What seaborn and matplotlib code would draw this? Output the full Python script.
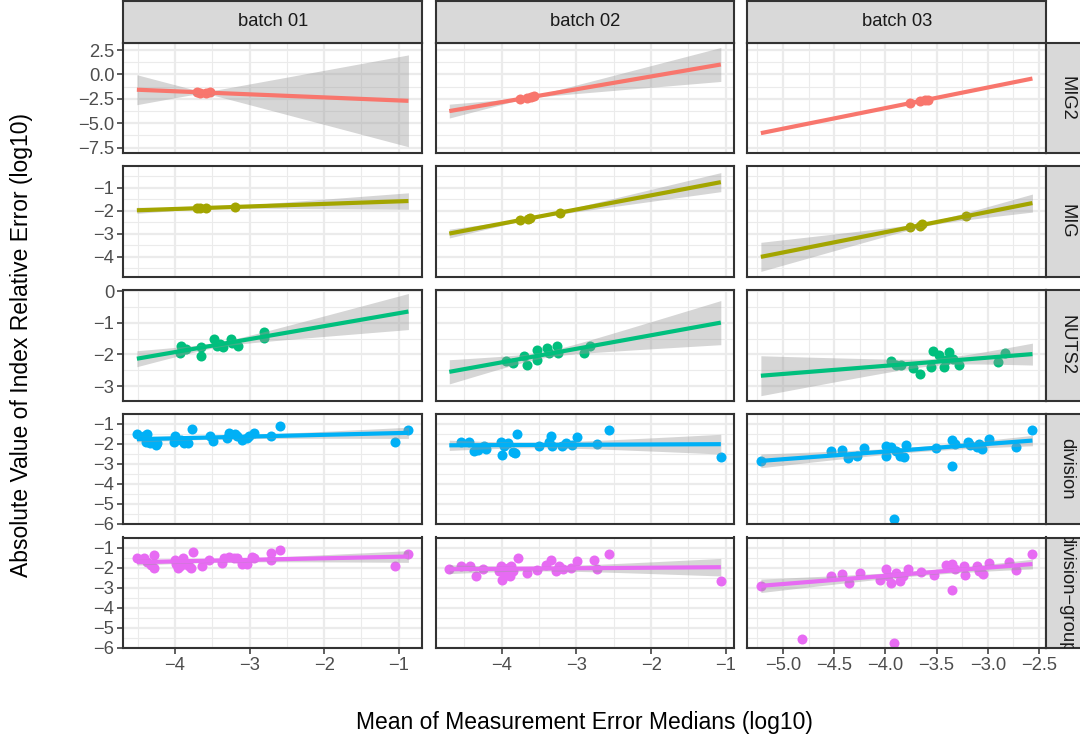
import numpy as np
import pandas as pd
import matplotlib
matplotlib.use("Agg")
import matplotlib.pyplot as plt
import seaborn as sns
from math import lgamma, exp, sqrt, pi
from matplotlib.ticker import FixedLocator, FuncFormatter

# ---------------------------------------------------------------- data
levels = ["MIG2", "MIG", "NUTS2", "division", "division-group"]
batches = ["batch 01", "batch 02", "batch 03"]
palette = ["#F8766D", "#A3A500", "#00BF7D", "#00B0F6", "#E76BF3"]

mig2_b01_x = [-3.70, -3.66, -3.58, -3.53]
mig2_b01_y = [-1.787, -1.869, -1.904, -1.840]
mig2_b02_x = [-3.75, -3.66, -3.61, -3.57]
mig2_b02_y = [-2.502, -2.420, -2.330, -2.265]
mig2_b03_x = [-3.764, -3.666, -3.618, -3.586]
mig2_b03_y = [-2.958, -2.751, -2.650, -2.582]

mig_b01_x = [-3.70, -3.67, -3.59, -3.19]
mig_b01_y = [-1.881, -1.902, -1.875, -1.835]
mig_b02_x = [-3.752, -3.652, -3.616, -3.219]
mig_b02_y = [-2.403, -2.364, -2.312, -2.081]
mig_b03_x = [-3.764, -3.666, -3.640, -3.212]
mig_b03_y = [-2.713, -2.677, -2.581, -2.237]

nuts2_b01_x = [-3.924, -3.933, -3.857, -3.657, -3.657, -3.480, -3.435,
               -3.391, -3.355, -3.244, -3.235, -3.160, -2.813, -2.804]
nuts2_b01_y = [-1.727, -1.968, -1.830, -1.757, -2.040, -1.516, -1.727,
               -1.685, -1.768, -1.516, -1.653, -1.727, -1.285, -1.495]
nuts2_b02_x = [-3.943, -3.853, -3.699, -3.653, -3.529, -3.520, -3.387,
               -3.365, -3.263, -3.245, -2.899, -2.819]
nuts2_b02_y = [-2.210, -2.284, -2.052, -2.337, -1.863, -2.179, -1.810,
               -1.968, -1.737, -1.968, -1.950, -1.750]
nuts2_b03_x = [-3.942, -3.893, -3.844, -3.731, -3.666, -3.553, -3.537, -3.472,
               -3.423, -3.407, -3.381, -3.342, -3.277, -2.905, -2.830]
nuts2_b03_y = [-2.210, -2.337, -2.337, -2.420, -2.630, -2.390, -1.895, -2.020,
               -2.390, -2.180, -1.916, -2.147, -2.337, -2.232, -1.968]

division_b01_x = [-4.511, -4.413, -4.377, -4.391, -4.333, -4.257, -4.235, -4.004,
                  -4.013, -3.924, -3.880, -3.827, -3.768, -3.533, -3.488, -3.301,
                  -3.280, -3.191, -3.168, -3.101, -3.035, -3.013, -2.947, -2.715,
                  -2.591, -1.057, -0.871]
division_b01_y = [-1.497, -1.596, -1.497, -1.878, -1.960, -2.043, -1.960, -1.596,
                  -1.878, -1.795, -1.960, -1.960, -1.265, -1.596, -1.829, -1.712,
                  -1.464, -1.497, -1.596, -1.795, -1.712, -1.596, -1.464, -1.596,
                  -1.100, -1.911, -1.298]
division_b02_x = [-4.543, -4.432, -4.365, -4.320, -4.232, -4.209, -4.009, -4.000,
                  -3.965, -3.920, -3.853, -3.823, -3.796, -3.499, -3.365, -3.333,
                  -3.320, -3.187, -3.143, -3.053, -2.987, -2.720, -2.565, -1.067]
division_b02_y = [-1.911, -1.911, -2.375, -2.292, -2.126, -2.259, -1.878, -2.540,
                  -2.126, -1.960, -2.425, -2.458, -1.497, -2.126, -1.878, -1.596,
                  -2.093, -2.093, -1.960, -2.043, -1.662, -1.994, -1.298, -2.672]
division_b03_x = [-5.216, -4.535, -4.428, -4.364, -4.282, -4.211, -3.997, -3.997,
                  -3.942, -3.900, -3.861, -3.822, -3.796, -3.504, -3.348, -3.348,
                  -3.316, -3.196, -3.173, -3.109, -3.083, -3.057, -2.985, -2.720,
                  -2.564]
division_b03_y = [-2.872, -2.375, -2.325, -2.706, -2.623, -2.209, -2.093, -2.590,
                  -2.160, -2.375, -2.623, -2.672, -2.043, -2.209, -1.795, -3.086,
                  -2.010, -1.911, -2.043, -2.160, -1.994, -2.259, -1.745, -2.160,
                  -1.298]
# extreme low-error units, shown as points but left out of the trend fit
division_b03_low_x = [-3.916]
division_b03_low_y = [-5.734]

divgroup_b01_x = [-4.511, -4.422, -4.377, -4.324, -4.288, -4.288, -4.004, -3.991,
                  -3.960, -3.933, -3.888, -3.871, -3.813, -3.781, -3.755, -3.635,
                  -3.547, -3.368, -3.347, -3.280, -3.213, -3.168, -3.101, -3.035,
                  -2.968, -2.947, -2.715, -2.715, -2.591, -1.057, -0.871]
divgroup_b01_y = [-1.483, -1.513, -1.732, -1.847, -1.349, -2.011, -1.598, -1.797,
                  -2.011, -1.897, -1.513, -1.797, -1.930, -2.011, -1.184, -1.930,
                  -1.598, -1.764, -1.513, -1.433, -1.513, -1.513, -1.797, -1.797,
                  -1.433, -1.513, -1.266, -1.633, -1.100, -1.897, -1.299]
divgroup_b02_x = [-4.699, -4.543, -4.419, -4.343, -4.253, -4.032, -4.009, -4.000,
                  -3.973, -3.943, -3.929, -3.912, -3.885, -3.876, -3.853, -3.779,
                  -3.653, -3.520, -3.409, -3.333, -3.276, -3.232, -3.173, -3.076,
                  -2.987, -2.765, -2.720, -2.565, -1.067]
divgroup_b02_y = [-2.063, -1.930, -1.897, -2.430, -2.063, -2.179, -1.930, -2.594,
                  -2.262, -2.096, -2.345, -2.013, -2.430, -1.897, -2.179, -1.483,
                  -2.262, -2.096, -1.847, -1.633, -2.179, -1.930, -2.063, -2.013,
                  -1.682, -1.598, -2.063, -1.299, -2.678]
divgroup_b03_x = [-5.216, -4.535, -4.428, -4.354, -4.250, -4.055, -3.997,
                  -3.975, -3.942, -3.900, -3.861, -3.829, -3.780, -3.650,
                  -3.530, -3.407, -3.348, -3.348, -3.316, -3.229, -3.219, -3.109,
                  -3.083, -3.051, -2.985, -2.791, -2.720, -2.564]
divgroup_b03_y = [-2.928, -2.395, -2.312, -2.761, -2.262, -2.594, -2.063,
                  -2.430, -2.761, -2.262, -2.678, -2.430, -2.063, -2.229,
                  -2.345, -1.847, -1.797, -3.093, -2.063, -1.930, -2.345, -1.930,
                  -2.179, -2.296, -1.764, -1.732, -2.130, -1.299]
divgroup_b03_low_x = [-4.817, -3.919]
divgroup_b03_low_y = [-5.549, -5.749]

series = [
    ("MIG2", "batch 01", mig2_b01_x, mig2_b01_y, True),
    ("MIG2", "batch 02", mig2_b02_x, mig2_b02_y, True),
    ("MIG2", "batch 03", mig2_b03_x, mig2_b03_y, True),
    ("MIG", "batch 01", mig_b01_x, mig_b01_y, True),
    ("MIG", "batch 02", mig_b02_x, mig_b02_y, True),
    ("MIG", "batch 03", mig_b03_x, mig_b03_y, True),
    ("NUTS2", "batch 01", nuts2_b01_x, nuts2_b01_y, True),
    ("NUTS2", "batch 02", nuts2_b02_x, nuts2_b02_y, True),
    ("NUTS2", "batch 03", nuts2_b03_x, nuts2_b03_y, True),
    ("division", "batch 01", division_b01_x, division_b01_y, True),
    ("division", "batch 02", division_b02_x, division_b02_y, True),
    ("division", "batch 03", division_b03_x, division_b03_y, True),
    ("division", "batch 03", division_b03_low_x, division_b03_low_y, False),
    ("division-group", "batch 01", divgroup_b01_x, divgroup_b01_y, True),
    ("division-group", "batch 02", divgroup_b02_x, divgroup_b02_y, True),
    ("division-group", "batch 03", divgroup_b03_x, divgroup_b03_y, True),
    ("division-group", "batch 03", divgroup_b03_low_x, divgroup_b03_low_y, False),
]

# per-row y scales and per-column x breaks
y_limits = {"MIG2": (-8.08, 3.25), "MIG": (-4.865, -0.08),
            "NUTS2": (-3.46, 0.03), "division": (-6.02, -0.49),
            "division-group": (-6.02, -0.48)}
y_breaks = {"MIG2": [-7.5, -5.0, -2.5, 0.0, 2.5], "MIG": [-4, -3, -2, -1],
            "NUTS2": [-3, -2, -1, 0], "division": [-6, -5, -4, -3, -2, -1],
            "division-group": [-6, -5, -4, -3, -2, -1]}
y_decimals = {"MIG2": 1, "MIG": 0, "NUTS2": 0, "division": 0, "division-group": 0}
x_breaks = {"batch 01": [-4, -3, -2, -1], "batch 02": [-4, -3, -2, -1],
            "batch 03": [-5.0, -4.5, -4.0, -3.5, -3.0, -2.5]}
x_decimals = {"batch 01": 0, "batch 02": 0, "batch 03": 1}

rows = []
for lv, bt, xs, ys, fitted in series:
    rows += [(lv, bt, a, b, fitted) for a, b in zip(xs, ys)]
df = pd.DataFrame(rows, columns=["level", "batch", "x", "y", "fitted"])


# ---------------------------------------------------------------- helpers
def t_quantile(p, nu):
    grid = np.linspace(0.0, 80.0, 800001)
    c = exp(lgamma((nu + 1) / 2) - lgamma(nu / 2)) / sqrt(nu * pi)
    pdf = c * (1 + grid ** 2 / nu) ** (-(nu + 1) / 2)
    cdf = 0.5 + np.concatenate([[0.0], np.cumsum((pdf[1:] + pdf[:-1]) / 2 * np.diff(grid))])
    return grid[min(np.searchsorted(cdf, p), len(grid) - 1)]


def lm_band(x, y, grid, level=0.95):
    x = np.asarray(x, float)
    y = np.asarray(y, float)
    n = len(x)
    xbar = x.mean()
    sxx = ((x - xbar) ** 2).sum()
    slope = ((x - xbar) * (y - y.mean())).sum() / sxx
    icpt = y.mean() - slope * xbar
    resid = y - (icpt + slope * x)
    s = sqrt((resid ** 2).sum() / (n - 2))
    se = s * np.sqrt(1 / n + (grid - xbar) ** 2 / sxx)
    q = t_quantile(0.5 + level / 2, n - 2)
    fit = icpt + slope * grid
    return fit - q * se, fit + q * se


def minor_of(breaks, lo, hi):
    b = np.asarray(breaks, float)
    step = b[1] - b[0]
    mids = np.concatenate([[b[0] - step / 2], (b[:-1] + b[1:]) / 2, [b[-1] + step / 2]])
    return [m for m in mids if lo <= m <= hi]


def fmt(decimals):
    return FuncFormatter(lambda v, _: f"{v:.{decimals}f}".replace("-", "\u2212"))


# ---------------------------------------------------------------- style
sns.set_style("white")
plt.rcParams["font.family"] = ["Liberation Sans", "DejaVu Sans"]
plt.rcParams["axes.unicode_minus"] = True

W, H = 1080, 744
fig = plt.figure(figsize=(W / 100, H / 100), dpi=100)

col_left = [123.3, 435.7, 747.3]
col_w = 298.7
row_top = [42.7, 166.4, 290.1, 413.8, 537.5]
row_h = 110.5
strip_top = 1.0
strip_right_w = 41.7

border = "#333333"
grid_col = "#EBEBEB"
tick_col = "#4D4D4D"
tick_size = 13.2

for r, lv in enumerate(levels):
    color = palette[r]
    for c, bt in enumerate(batches):
        l, t = col_left[c], row_top[r]
        ax = fig.add_axes([l / W, 1 - (t + row_h) / H, col_w / W, row_h / H])
        sub = df[(df.level == lv) & (df.batch == bt)]
        fit_sub = sub[sub.fitted]
        col_x = df[df.batch == bt].x
        x0, x1 = col_x.min(), col_x.max()
        pad = 0.05 * (x1 - x0)

        sns.scatterplot(data=sub, x="x", y="y", color=color, s=52,
                        linewidth=0, ax=ax, zorder=3, legend=False)
        ax.set_xlim(x0, x1)
        grid = np.linspace(x0, x1, 200)
        lo, hi = lm_band(fit_sub.x, fit_sub.y, grid)
        ax.fill_between(grid, lo, hi, color="#999999", alpha=0.4,
                        linewidth=0, zorder=4)
        sns.regplot(data=fit_sub, x="x", y="y", scatter=False, ci=None,
                    truncate=False, color=color, ax=ax,
                    line_kws=dict(lw=3.0, zorder=5, solid_capstyle="butt"))

        ax.set_xlim(x0 - pad, x1 + pad)
        ax.set_ylim(*y_limits[lv])
        ax.set_xlabel("")
        ax.set_ylabel("")

        xb, yb = x_breaks[bt], y_breaks[lv]
        ax.xaxis.set_major_locator(FixedLocator(xb))
        ax.xaxis.set_minor_locator(FixedLocator(minor_of(xb, x0 - pad, x1 + pad)))
        ax.yaxis.set_major_locator(FixedLocator(yb))
        ax.yaxis.set_minor_locator(FixedLocator(minor_of(yb, *y_limits[lv])))
        ax.xaxis.set_major_formatter(fmt(x_decimals[bt]))
        ax.yaxis.set_major_formatter(fmt(y_decimals[lv]))

        ax.set_axisbelow(True)
        ax.grid(which="major", color=grid_col, lw=1.6)
        ax.grid(which="minor", color=grid_col, lw=0.8)
        ax.set_facecolor("white")
        for sp in ax.spines.values():
            sp.set_color(border)
            sp.set_linewidth(1.5)
            sp.set_zorder(10)

        ax.tick_params(which="minor", length=0)
        ax.tick_params(which="major", direction="out", length=4.0, width=1.1,
                       color=border, labelsize=tick_size, labelcolor=tick_col,
                       pad=2.5,
                       bottom=(r == len(levels) - 1), labelbottom=(r == len(levels) - 1),
                       left=(c == 0), labelleft=(c == 0),
                       top=False, right=False)

        # column strip
        if r == 0:
            sax = fig.add_axes([l / W, 1 - t / H, col_w / W, (t - strip_top) / H])
            sax.set_facecolor("#D9D9D9")
            sax.set_xticks([])
            sax.set_yticks([])
            for sp in sax.spines.values():
                sp.set_color(border)
                sp.set_linewidth(1.5)
            sax.text(0.5, 0.5, bt, ha="center", va="center", fontsize=tick_size,
                     color="#1A1A1A", transform=sax.transAxes)

        # row strip
        if c == len(batches) - 1:
            rl = l + col_w
            rax = fig.add_axes([rl / W, 1 - (t + row_h) / H, strip_right_w / W, row_h / H])
            rax.set_facecolor("#D9D9D9")
            rax.set_xticks([])
            rax.set_yticks([])
            for sp in rax.spines.values():
                sp.set_color(border)
                sp.set_linewidth(1.5)
            rax.text(0.5, 0.5, lv.replace("-", "\u2212"), ha="center", va="center",
                     rotation=-90, fontsize=tick_size, color="#1A1A1A",
                     transform=rax.transAxes, clip_on=True)

fig.text((col_left[0] + col_left[2] + col_w) / 2 / W, 1 - 722 / H,
         "Mean of Measurement Error Medians (log10)",
         ha="center", va="center", fontsize=16.5, color="black")
fig.text(22 / W, 1 - (row_top[0] + row_top[-1] + row_h) / 2 / H,
         "Absolute Value of Index Relative Error (log10)",
         ha="center", va="center", rotation=90, fontsize=16.5, color="black")

fig.savefig("out.png", dpi=100, facecolor="white")
